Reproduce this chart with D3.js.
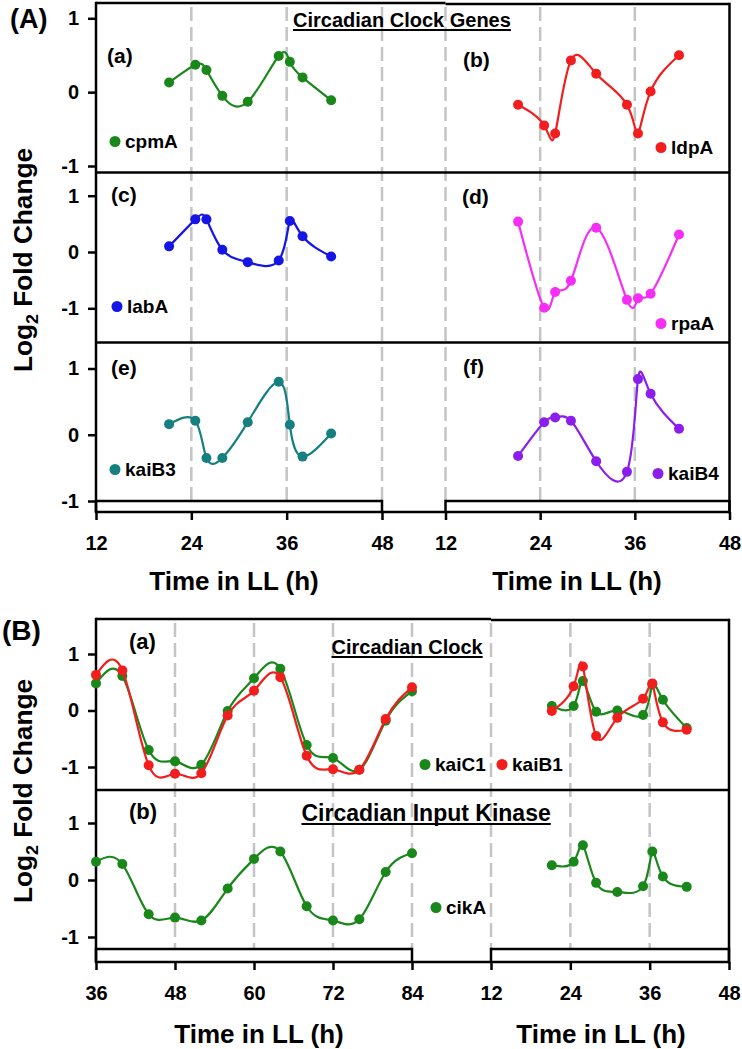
<!DOCTYPE html>
<html>
<head>
<meta charset="utf-8">
<script src="https://cdn.jsdelivr.net/npm/d3@7"></script>
<style>
  html, body { margin: 0; padding: 0; background: #fff; }
  svg { display: block; font-family: "Liberation Sans", Arial, sans-serif; font-weight: bold; }
</style>
</head>
<body>
<svg id="chart" width="742" height="1049"></svg>
<script>
// sampling times (h in LL)
const hoursShort = [21.2, 24.5, 25.9, 27.9, 31.1, 35.0, 36.4, 38.0, 41.6];
const hoursLong = [36, 40, 44, 48, 52, 56, 60, 64, 68, 72, 76, 80, 84];

// panel A, log2 fold change
const cpmA = [0.13, 0.37, 0.30, -0.05, -0.13, 0.49, 0.41, 0.20, -0.11];
const ldpA = [-0.17, -0.45, -0.56, 0.43, 0.25, -0.17, -0.56, 0.01, 0.50];
const labA = [0.10, 0.58, 0.58, 0.04, -0.18, -0.15, 0.55, 0.28, -0.08];
const rpaA = [0.54, -0.99, -0.71, -0.51, 0.43, -0.85, -0.82, -0.74, 0.31];
const kaiB3 = [0.16, 0.21, -0.35, -0.35, 0.19, 0.80, 0.15, -0.33, 0.02];
const kaiB4 = [-0.32, 0.19, 0.26, 0.21, -0.40, -0.56, 0.84, 0.62, 0.09];

// panel B, log2 fold change
const kaiC1Long = [0.48, 0.61, -0.70, -0.90, -0.96, -0.01, 0.57, 0.74, -0.61, -0.84, -1.05, -0.18, 0.34];
const kaiB1Long = [0.63, 0.71, -0.97, -1.12, -1.11, -0.09, 0.35, 0.59, -0.80, -1.04, -1.05, -0.15, 0.41];
const kaiC1Short = [0.08, 0.08, 0.52, -0.02, 0.00, -0.08, 0.46, 0.19, -0.31];
const kaiB1Short = [-0.01, 0.43, 0.78, -0.45, -0.13, 0.21, 0.48, -0.21, -0.34];
const cikALong = [0.32, 0.28, -0.60, -0.66, -0.71, -0.15, 0.37, 0.50, -0.46, -0.71, -0.69, 0.14, 0.47];
const cikAShort = [0.26, 0.32, 0.61, -0.05, -0.21, -0.11, 0.50, 0.06, -0.12];

// ticks
const yTicks = [-1, 0, 1];
const ticksA = [12, 24, 36, 48];
const ticksBLeft = [36, 48, 60, 72, 84];
const ticksBRight = [12, 24, 36, 48];

const GREEN = '#1a871a';
const RED = '#f21d1d';
const BLUE = '#1515e6';
const MAGENTA = '#f52ef5';
const TEAL = '#168080';
const PURPLE = '#8c1eeb';

const svg = d3.select('#chart');

const panels = [
  {
    xL: d3.scaleLinear().domain([12, 48]).range([96, 382]),
    xR: d3.scaleLinear().domain([12, 48]).range([445.5, 729.5]),
    ticksL: ticksA, ticksR: ticksA,
    dashL: [24, 36, 48], dashR: [12, 24, 36],
    top: 3, rectTop: 501, axisY: 512, pad: 16,
    rows: [
      { top: 3, y: d3.scaleLinear().domain([-1, 1]).range([166, 18.3]) },
      { top: 172.5, y: d3.scaleLinear().domain([-1, 1]).range([308.3, 195.7]) },
      { top: 342.5, y: d3.scaleLinear().domain([-1, 1]).range([501, 368.5]) },
    ],
    series: [
      { row: 0, half: 'L', hours: hoursShort, values: cpmA, color: GREEN },
      { row: 0, half: 'R', hours: hoursShort, values: ldpA, color: RED },
      { row: 1, half: 'L', hours: hoursShort, values: labA, color: BLUE },
      { row: 1, half: 'R', hours: hoursShort, values: rpaA, color: MAGENTA },
      { row: 2, half: 'L', hours: hoursShort, values: kaiB3, color: TEAL },
      { row: 2, half: 'R', hours: hoursShort, values: kaiB4, color: PURPLE },
    ],
  },
  {
    xL: d3.scaleLinear().domain([36, 84]).range([96, 412]),
    xR: d3.scaleLinear().domain([12, 48]).range([491, 729]),
    ticksL: ticksBLeft, ticksR: ticksBRight,
    dashL: [48, 60, 72, 84], dashR: [12, 24, 36],
    top: 619, rectTop: 949, axisY: 962, pad: 16,
    rows: [
      { top: 619, y: d3.scaleLinear().domain([-1, 1]).range([767, 654]) },
      { top: 790, y: d3.scaleLinear().domain([-1, 1]).range([937, 823]) },
    ],
    series: [
      { row: 0, half: 'L', hours: hoursLong, values: kaiC1Long, color: GREEN },
      { row: 0, half: 'L', hours: hoursLong, values: kaiB1Long, color: RED },
      { row: 0, half: 'R', hours: hoursShort, values: kaiC1Short, color: GREEN },
      { row: 0, half: 'R', hours: hoursShort, values: kaiB1Short, color: RED },
      { row: 1, half: 'L', hours: hoursLong, values: cikALong, color: GREEN },
      { row: 1, half: 'R', hours: hoursShort, values: cikAShort, color: GREEN },
    ],
  },
];

function hline(g, x1, x2, y) {
  g.append('line').attr('x1', x1).attr('x2', x2).attr('y1', y).attr('y2', y)
    .attr('stroke', '#000').attr('stroke-width', 2.5);
}

function vline(g, x, y1, y2) {
  g.append('line').attr('x1', x).attr('x2', x).attr('y1', y1).attr('y2', y2)
    .attr('stroke', '#000').attr('stroke-width', 2.5);
}

function styleAxis(sel, size) {
  sel.select('.domain').remove();
  sel.selectAll('.tick line').attr('stroke', '#000').attr('stroke-width', 2.5);
  sel.selectAll('.tick text').attr('fill', '#000').attr('font-size', size)
    .attr('font-family', '"Liberation Sans", Arial, sans-serif').attr('font-weight', 'bold');
}

function drawPanel(p) {
  const g = svg.append('g');
  const left = p.xL.range()[0];
  const right = p.xR.range()[1];

  // dashed guides
  const guides = p.dashL.map((h) => p.xL(h)).concat(p.dashR.map((h) => p.xR(h)));
  g.append('g').selectAll('line').data(guides).enter().append('line')
    .attr('x1', (d) => d).attr('x2', (d) => d)
    .attr('y1', p.top + 4).attr('y2', p.rectTop)
    .attr('stroke', '#c4c4c4').attr('stroke-width', 2.5).attr('stroke-dasharray', '14,6');

  // frame
  hline(g, left, p.xR.range()[0], p.top);
  hline(g, p.xR.range()[0], right, p.top + 1);
  p.rows.slice(1).forEach((r) => hline(g, left, right, r.top));
  vline(g, left, p.top - 1.2, p.axisY + 1.2);
  vline(g, right, p.top - 0.2, p.axisY + 1.2);
  hline(g, left, right, p.axisY);
  [p.xL, p.xR].forEach((xs) => {
    const [a, b] = xs.range();
    hline(g, a, b, p.rectTop);
    vline(g, a, p.rectTop - 1.2, p.axisY);
    vline(g, b, p.rectTop - 1.2, p.axisY);
  });

  // axes
  p.rows.forEach((r) => {
    g.append('g').attr('transform', `translate(${left},0)`)
      .call(d3.axisLeft(r.y).tickValues(yTicks).tickSize(8).tickPadding(9).tickFormat((d) => String(d)))
      .call((s) => styleAxis(s, 20));
  });
  g.append('g').attr('transform', `translate(0,${p.axisY})`)
    .call(d3.axisBottom(p.xL).tickValues(p.ticksL).tickSize(8).tickPadding(p.pad))
    .call((s) => styleAxis(s, 20));
  g.append('g').attr('transform', `translate(0,${p.axisY})`)
    .call(d3.axisBottom(p.xR).tickValues(p.ticksR).tickSize(8).tickPadding(p.pad))
    .call((s) => styleAxis(s, 20));

  // series
  p.series.forEach((s) => {
    const xs = s.half === 'L' ? p.xL : p.xR;
    const ys = p.rows[s.row].y;
    const pts = s.hours.map((h, i) => ({ h, v: s.values[i] }));
    const line = d3.line().x((d) => xs(d.h)).y((d) => ys(d.v)).curve(d3.curveNatural);
    g.append('path').datum(pts).attr('d', line)
      .attr('fill', 'none').attr('stroke', s.color).attr('stroke-width', 2.2);
    g.append('g').selectAll('circle').data(pts).enter().append('circle')
      .attr('cx', (d) => xs(d.h)).attr('cy', (d) => ys(d.v))
      .attr('r', 5).attr('fill', s.color);
  });
}

panels.forEach(drawPanel);

// texts
function text(x, y, str, size, anchor) {
  return svg.append('text').attr('x', x).attr('y', y)
    .attr('font-size', size).attr('text-anchor', anchor || 'start').text(str);
}

function title(x, y, str, size) {
  const t = text(x, y, str, size);
  const w = t.node().getComputedTextLength();
  svg.append('line').attr('x1', x).attr('x2', x + w).attr('y1', y + 3).attr('y2', y + 3)
    .attr('stroke', '#000').attr('stroke-width', 1.8);
}

function legend(x, y, name, color) {
  svg.append('circle').attr('cx', x).attr('cy', y - 6.5).attr('r', 5.5).attr('fill', color);
  text(x + 10, y, name, 19);
}

function yTitle(x, y) {
  const t = svg.append('text').attr('transform', `translate(${x},${y}) scale(1,1.05) rotate(-90)`)
    .attr('text-anchor', 'middle').attr('font-size', 25);
  t.append('tspan').text('Log');
  t.append('tspan').attr('font-size', 17).attr('dy', 6).text('2');
  t.append('tspan').attr('dy', -6).text(' Fold Change');
}

text(10, 28, '(A)', 27);
text(2, 640, '(B)', 28);

title(293, 27, 'Circadian Clock Genes', 20);
title(331.5, 654, 'Circadian Clock', 20);
title(301.5, 821, 'Circadian Input Kinase', 23);

text(107, 63, '(a)', 21);
text(463, 67, '(b)', 21);
text(111, 202, '(c)', 21);
text(462, 204, '(d)', 21);
text(111, 375, '(e)', 21);
text(463, 374, '(f)', 21);
text(129, 649, '(a)', 22);
text(129, 819, '(b)', 22);

legend(115, 148, 'cpmA', GREEN);
legend(661, 154, 'ldpA', RED);
legend(117, 313, 'labA', BLUE);
legend(661, 330, 'rpaA', MAGENTA);
legend(115, 476, 'kaiB3', TEAL);
legend(658, 480, 'kaiB4', PURPLE);
legend(425, 771, 'kaiC1', GREEN);
legend(502, 771, 'kaiB1', RED);
legend(436, 914, 'cikA', GREEN);

yTitle(32, 260);
yTitle(32, 791);

text(234, 590, 'Time in LL (h)', 26, 'middle');
text(577, 590, 'Time in LL (h)', 26, 'middle');
text(259, 1043, 'Time in LL (h)', 26, 'middle');
text(601, 1043, 'Time in LL (h)', 26, 'middle');
</script>
</body>
</html>
